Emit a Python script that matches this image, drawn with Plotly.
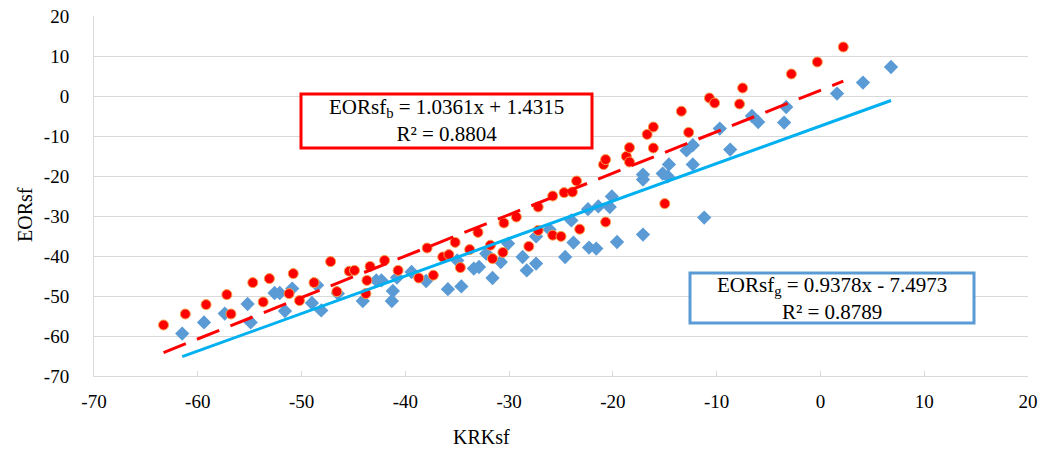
import plotly.graph_objects as go

# Red series (EORsf_b)
red_x = [-63.3, -61.2, -59.2, -57.2, -56.8, -54.7, -53.1, -53.7, -50.8, -51.2,
         -50.2, -48.8, -47.2, -46.6, -45.4, -44.9, -43.7, -43.4, -43.8, -42.0,
         -40.7, -38.7, -37.9, -37.3, -36.4, -35.8, -35.2, -34.7, -33.8, -33.0,
         -31.8, -31.6, -30.6, -30.5, -29.3, -28.1, -27.2, -27.2, -25.8, -25.8,
         -25.0, -24.7, -23.9, -23.5, -23.2, -20.9, -20.7, -20.7, -18.7, -18.4,
         -18.4, -16.7, -16.1, -16.1, -15.0, -13.4, -12.7, -10.7, -10.2, -7.8,
         -7.5, -2.8, -0.3, 2.2]
red_y = [-57.25, -54.5, -52.15, -49.65, -54.5, -46.65, -45.65, -51.5, -44.4, -49.4,
         -51.15, -46.65, -41.4, -48.9, -43.8, -43.6, -46.1, -42.6, -49.4, -41.1,
         -43.6, -45.5, -38.0, -44.8, -40.25, -39.65, -36.6, -42.9, -38.4, -34.1,
         -37.3, -40.65, -39.1, -31.75, -30.25, -37.6, -27.75, -33.6, -25.0, -34.8,
         -35.1, -24.15, -24.0, -21.25, -33.3, -17.15, -15.9, -31.5, -15.1, -16.5,
         -12.9, -9.6, -7.75, -13.0, -26.9, -3.8, -9.1, -0.5, -1.75, -2.0,
         2.0, 5.5, 8.5, 12.25]

# Blue series (EORsf_g)
blue_x = [-61.5, -59.4, -57.4, -55.2, -54.9, -52.6, -52.1, -50.9, -51.6, -49.0,
          -48.1, -48.5, -46.5, -44.1, -42.8, -42.3, -41.3, -41.2, -40.8, -39.4,
          -38.0, -35.9, -35.0, -34.6, -33.4, -32.9, -32.2, -31.6, -30.8, -30.1,
          -28.7, -28.3, -27.4, -27.4, -26.1, -24.6, -24.0, -23.8, -22.4, -22.3,
          -21.6, -21.4, -20.3, -20.1, -19.6, -17.1, -17.1, -17.1, -15.2, -14.6,
          -14.7, -12.9, -12.3, -12.3, -11.2, -9.7, -8.7, -6.6, -6.0, -3.5,
          -3.3, 1.6, 4.1, 6.8]
blue_y = [-59.4, -56.6, -54.4, -52.0, -56.6, -49.25, -49.25, -48.15, -53.75, -51.75,
          -53.6, -47.3, -49.4, -51.25, -46.1, -46.1, -51.25, -48.75, -45.4, -44.0,
          -46.25, -48.3, -41.1, -47.6, -43.15, -42.75, -39.4, -45.5, -41.5, -36.9,
          -40.25, -43.6, -41.9, -35.1, -33.4, -40.25, -31.1, -36.65, -28.3, -37.9,
          -38.15, -27.6, -27.75, -25.1, -36.5, -19.65, -20.9, -34.65, -19.4, -17.1,
          -20.1, -13.6, -12.3, -17.1, -30.4, -8.15, -13.4, -5.0, -6.5, -6.65,
          -2.75, 0.6, 3.35, 7.25]

# Trendline equations shown in the chart
red_slope, red_icpt, red_r2 = 1.0361, 1.4315, 0.8804
blue_slope, blue_icpt, blue_r2 = 0.9378, -7.4973, 0.8789

x_ticks = [-70, -60, -50, -40, -30, -20, -10, 0, 10, 20]
y_ticks = [-70, -60, -50, -40, -30, -20, -10, 0, 10, 20]

W, H = 1045, 450
L, R, T, B = 94, 1028, 16, 376


def px(x):
    return (x - L) / (R - L)


def py(y):
    return (B - y) / (B - T)


fig = go.Figure()

fig.add_trace(go.Scatter(
    x=blue_x, y=blue_y, mode="markers",
    marker=dict(symbol="diamond", size=11, color="#5b9bd5",
                line=dict(width=0)),
    showlegend=False))

fig.add_trace(go.Scatter(
    x=red_x, y=red_y, mode="markers",
    marker=dict(symbol="circle", size=10, color="#ff0000",
                line=dict(width=1, color="#f5a04a")),
    showlegend=False))

bx0, bx1 = min(blue_x), max(blue_x)
fig.add_trace(go.Scatter(
    x=[bx0, bx1], y=[blue_slope * bx0 + blue_icpt, blue_slope * bx1 + blue_icpt],
    mode="lines", line=dict(color="#00b0f0", width=3), showlegend=False))

rx0, rx1 = min(red_x), max(red_x)
fig.add_trace(go.Scatter(
    x=[rx0, rx1], y=[red_slope * rx0 + red_icpt, red_slope * rx1 + red_icpt],
    mode="lines", line=dict(color="#ff0000", width=3, dash="24px,12px"),
    showlegend=False))

serif = "Liberation Serif"

# Equation boxes
fig.add_shape(type="rect", xref="paper", yref="paper",
              x0=px(301), x1=px(592), y0=py(148), y1=py(94),
              line=dict(color="#ff0000", width=3), fillcolor="white")
fig.add_annotation(xref="paper", yref="paper", x=px(446), y=py(121),
                   text="EORsf<sub>b</sub> = %.4fx + %.4f<br>R² = %.4f" % (red_slope, red_icpt, red_r2),
                   showarrow=False, font=dict(family=serif, size=21, color="black"),
                   align="center", xanchor="center", yanchor="middle")

fig.add_shape(type="rect", xref="paper", yref="paper",
              x0=px(690), x1=px(974), y0=py(323), y1=py(273),
              line=dict(color="#5b9bd5", width=3), fillcolor="white")
fig.add_annotation(xref="paper", yref="paper", x=px(832), y=py(298),
                   text="EORsf<sub>g</sub> = %.4fx - %.4f<br>R² = %.4f" % (blue_slope, -blue_icpt, blue_r2),
                   showarrow=False, font=dict(family=serif, size=21, color="black"),
                   align="center", xanchor="center", yanchor="middle")

# Axis titles
fig.add_annotation(xref="paper", yref="paper", x=px(25), y=py(215),
                   text="EORsf", textangle=-90, showarrow=False,
                   font=dict(family=serif, size=20, color="black"),
                   xanchor="center", yanchor="middle")
fig.add_annotation(xref="paper", yref="paper", x=px(481), y=py(437),
                   text="KRKsf", showarrow=False,
                   font=dict(family=serif, size=20, color="black"),
                   xanchor="center", yanchor="middle")

fig.update_layout(
    width=W, height=H,
    margin=dict(l=L, r=W - R, t=T, b=H - B, autoexpand=False),
    plot_bgcolor="white", paper_bgcolor="white",
    font=dict(family=serif),
    xaxis=dict(range=[-70, 20], tickvals=x_ticks, ticktext=[str(v) for v in x_ticks],
               showgrid=False, zeroline=False, showline=True, linecolor="#d9d9d9",
               linewidth=1, ticks="inside", ticklen=5, tickcolor="#d9d9d9",
               tickfont=dict(family=serif, size=19, color="black"),
               ticklabelstandoff=8, automargin=False),
    yaxis=dict(range=[-70, 20], tickvals=y_ticks, ticktext=[str(v) for v in y_ticks],
               showgrid=True, gridcolor="#d9d9d9", gridwidth=1, zeroline=False,
               showline=True, linecolor="#d9d9d9", linewidth=1, ticks="",
               tickfont=dict(family=serif, size=19, color="black"),
               ticklabelstandoff=20, automargin=False),
)

fig.write_html("out.html", config={"displayModeBar": False},
               post_script="document.body.style.margin='0px';")
